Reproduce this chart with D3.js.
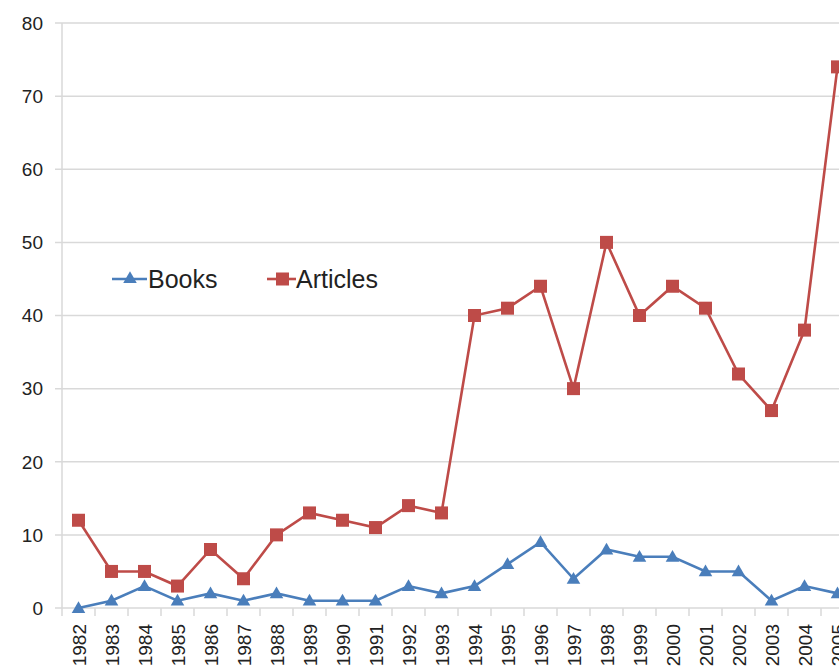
<!DOCTYPE html>
<html>
<head>
<meta charset="utf-8">
<script src="https://cdn.jsdelivr.net/npm/d3@7"></script>
<style>
  body { margin: 0; background: #fff; overflow: hidden; }
  text { font-family: "Liberation Sans", Arial, sans-serif; fill: #222; }
</style>
</head>
<body>
<div id="chart"></div>
<script>
// data
const years = ["1982","1983","1984","1985","1986","1987","1988","1989","1990","1991","1992","1993",
  "1994","1995","1996","1997","1998","1999","2000","2001","2002","2003","2004","2005"];
const books = [0,1,3,1,2,1,2,1,1,1,3,2,3,6,9,4,8,7,7,5,5,1,3,2];
const articles = [12,5,5,3,8,4,10,13,12,11,14,13,40,41,44,30,50,40,44,41,32,27,38,74];
const yTicks = [0,10,20,30,40,50,60,70,80];

const W = 839, H = 672;
const margin = { top: 23, left: 62, bottom: 64 };
const bandW = 33;

const svg = d3.select("#chart").append("svg")
  .attr("width", W).attr("height", H);

const x = d3.scaleBand()
  .domain(years)
  .range([margin.left, margin.left + bandW * years.length]);

const y = d3.scaleLinear()
  .domain([0, 80])
  .range([H - margin.bottom, margin.top]);

// gridlines
svg.append("g")
  .selectAll("line")
  .data(yTicks)
  .join("line")
  .attr("x1", margin.left - 7)
  .attr("x2", W)
  .attr("y1", d => y(d))
  .attr("y2", d => y(d))
  .attr("stroke", "#d9d9d9")
  .attr("stroke-width", 1.5);

// y axis line
svg.append("line")
  .attr("x1", margin.left).attr("x2", margin.left)
  .attr("y1", y(80)).attr("y2", y(0) + 8)
  .attr("stroke", "#d9d9d9").attr("stroke-width", 1.5);

// y labels
svg.append("g")
  .selectAll("text")
  .data(yTicks)
  .join("text")
  .attr("x", margin.left - 19)
  .attr("y", d => y(d))
  .attr("dy", "0.36em")
  .attr("text-anchor", "end")
  .style("font-size", "19px")
  .text(d => d);

// x tick marks at the category boundaries
svg.append("g")
  .selectAll("line")
  .data(years)
  .join("line")
  .attr("x1", d => x(d) + bandW)
  .attr("x2", d => x(d) + bandW)
  .attr("y1", y(0))
  .attr("y2", y(0) + 8)
  .attr("stroke", "#d9d9d9")
  .attr("stroke-width", 1.5);

// x labels, rotated (the last one runs off the right edge, as in the original)
svg.append("g")
  .selectAll("text")
  .data(years)
  .join("text")
  .attr("transform", d => `translate(${x(d) + bandW / 2 + 7},${y(0) + 16}) rotate(-90)`)
  .attr("text-anchor", "end")
  .style("font-size", "19px")
  .text(d => d);

const cx = (d, i) => x(years[i]) + bandW / 2;
const line = d3.line().x(cx).y(d => y(d));

const blue = "#4a7ebb", red = "#be4b48";

// articles
svg.append("path")
  .datum(articles)
  .attr("d", line)
  .attr("fill", "none")
  .attr("stroke", red)
  .attr("stroke-width", 2.6);

svg.append("g")
  .selectAll("rect")
  .data(articles)
  .join("rect")
  .attr("x", (d, i) => cx(d, i) - 6.5)
  .attr("y", d => y(d) - 6.5)
  .attr("width", 13).attr("height", 13)
  .attr("fill", red);

// books
svg.append("path")
  .datum(books)
  .attr("d", line)
  .attr("fill", "none")
  .attr("stroke", blue)
  .attr("stroke-width", 2.6);

const tri = d3.symbol().type(d3.symbolTriangle).size(80);
svg.append("g")
  .selectAll("path")
  .data(books)
  .join("path")
  .attr("d", tri)
  .attr("transform", (d, i) => `translate(${cx(d, i)},${y(d) + 1})`)
  .attr("fill", blue);

// legend
const legend = svg.append("g");
legend.append("line")
  .attr("x1", 112).attr("x2", 147).attr("y1", 279).attr("y2", 279)
  .attr("stroke", blue).attr("stroke-width", 2.6);
legend.append("path")
  .attr("d", tri)
  .attr("transform", "translate(130,279)")
  .attr("fill", blue);
legend.append("text")
  .attr("x", 148).attr("y", 279).attr("dy", "0.36em")
  .style("font-size", "25px")
  .text("Books");

legend.append("line")
  .attr("x1", 267).attr("x2", 296).attr("y1", 279).attr("y2", 279)
  .attr("stroke", red).attr("stroke-width", 2.6);
legend.append("rect")
  .attr("x", 276).attr("y", 272.5).attr("width", 13).attr("height", 13)
  .attr("fill", red);
legend.append("text")
  .attr("x", 296).attr("y", 279).attr("dy", "0.36em")
  .style("font-size", "25px")
  .text("Articles");
</script>
</body>
</html>
